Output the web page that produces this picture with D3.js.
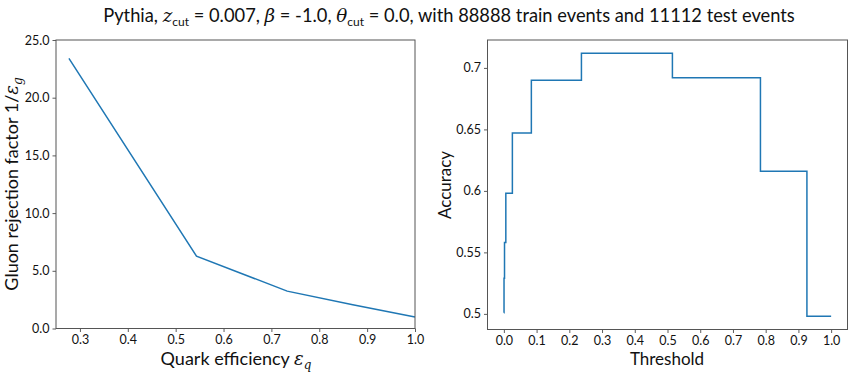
<!DOCTYPE html>
<html>
<head>
<meta charset="utf-8">
<script src="https://d3js.org/d3.v7.min.js"></script>
<style>
  body { margin: 0; background: #fff; }
  svg text { font-family: Lato, "DejaVu Sans", sans-serif; fill: #111; }
</style>
</head>
<body>
<svg width="850" height="373" id="mainsvg"></svg>
<script>
// ROC-like curve (left)
const quarkEff = [0.277, 0.5435, 0.733, 0.87, 1.0];
const gluonRej = [23.4, 6.27, 3.24, 2.05, 1.0];
const leftXTicks = [0.3, 0.4, 0.5, 0.6, 0.7, 0.8, 0.9, 1.0];
const leftYTicks = [0, 5, 10, 15, 20, 25];

// accuracy vs threshold (right)
const threshold = [0.0, 0.0005, 0.002, 0.006, 0.026, 0.084, 0.237, 0.515, 0.784, 0.926, 1.0];
const accuracy = [0.501, 0.529, 0.558, 0.598, 0.647, 0.690, 0.712, 0.692, 0.616, 0.498, 0.498];
const rightXTicks = [0, 0.1, 0.2, 0.3, 0.4, 0.5, 0.6, 0.7, 0.8, 0.9, 1.0];
const rightYTicks = [0.5, 0.55, 0.6, 0.65, 0.7];

const svg = d3.select('#mainsvg');
const blue = '#1f77b4';

// title
const title = svg.append('text')
    .attr('x', 449).attr('y', 22)
    .attr('text-anchor', 'middle')
    .style('font-size', '18.3px');
title.append('tspan').text('Pythia, ');
title.append('tspan').attr('font-style', 'italic').attr('font-family', 'DejaVu Serif').text('z');
title.append('tspan').attr('dy', 4).style('font-size', '12px').text('cut');
title.append('tspan').attr('dy', -4).text(' = 0.007, ');
title.append('tspan').attr('font-style', 'italic').attr('font-family', 'DejaVu Serif').text('β');
title.append('tspan').text(' = -1.0, ');
title.append('tspan').attr('font-style', 'italic').attr('font-family', 'DejaVu Serif').text('θ');
title.append('tspan').attr('dy', 4).style('font-size', '12px').text('cut');
title.append('tspan').attr('dy', -4).text(' = 0.0, with 88888 train events and 11112 test events');

function panel(box, xs, ys, xTicks, yTicks, xFmt, yFmt, data, curve) {
    const g = svg.append('g');
    const xAxis = d3.axisBottom(xs).tickValues(xTicks).tickFormat(xFmt).tickSizeOuter(0).tickSize(3.5).tickPadding(3);
    const yAxis = d3.axisLeft(ys).tickValues(yTicks).tickFormat(yFmt).tickSizeOuter(0).tickSize(3.5).tickPadding(3);
    const gx = g.append('g').attr('transform', `translate(0,${box.bottom})`).call(xAxis);
    const gy = g.append('g').attr('transform', `translate(${box.left},0)`).call(yAxis);
    [gx, gy].forEach(a => {
        a.select('.domain').remove();
        a.selectAll('line').attr('stroke', '#333').attr('stroke-width', 0.8);
        a.selectAll('text').style('font-size', '12.5px').attr('fill', '#111');
    });
    const line = d3.line().x(d => xs(d[0])).y(d => ys(d[1])).curve(curve);
    g.append('path').datum(data)
        .attr('d', line)
        .attr('fill', 'none')
        .attr('stroke', blue)
        .attr('stroke-width', 1.5);
    g.append('rect')
        .attr('x', box.left).attr('y', box.top)
        .attr('width', box.right - box.left).attr('height', box.bottom - box.top)
        .attr('fill', 'none').attr('stroke', '#555').attr('stroke-width', 1);
    return g;
}

// left panel
const lb = { left: 56, right: 415, top: 40, bottom: 328.5 };
const lx = d3.scaleLinear().domain([0.25, 1.0]).range([lb.left, lb.right]);
const ly = d3.scaleLinear().domain([0, 25]).range([lb.bottom, lb.top]);
panel(lb, lx, ly, leftXTicks, leftYTicks, d3.format('.1f'), d3.format('.1f'),
    quarkEff.map((d, i) => [d, gluonRej[i]]), d3.curveLinear);

const lxl = svg.append('text').attr('x', 236).attr('y', 365).attr('text-anchor', 'middle').style('font-size', '18px');
lxl.append('tspan').text('Quark efficiency ');
lxl.append('tspan').attr('font-style', 'italic').attr('font-family', 'DejaVu Serif').text('ε');
lxl.append('tspan').attr('dy', 4).attr('font-style', 'italic').attr('font-family', 'DejaVu Serif').style('font-size', '12px').text('q');

const lyl = svg.append('text').attr('transform', 'translate(18,184) rotate(-90)').attr('text-anchor', 'middle').style('font-size', '18px');
lyl.append('tspan').text('Gluon rejection factor 1/');
lyl.append('tspan').attr('font-style', 'italic').attr('font-family', 'DejaVu Serif').text('ε');
lyl.append('tspan').attr('dy', 4).attr('font-style', 'italic').attr('font-family', 'DejaVu Serif').style('font-size', '12px').text('g');

// right panel
const rb = { left: 487.5, right: 847.5, top: 40, bottom: 329.5 };
const rx = d3.scaleLinear().domain([-0.05, 1.05]).range([rb.left, rb.right]);
const accMin = d3.min(accuracy), accMax = d3.max(accuracy), pad = (accMax - accMin) * 0.05;
const ry = d3.scaleLinear().domain([accMin - pad, accMax + pad]).range([rb.bottom, rb.top]);
panel(rb, rx, ry, rightXTicks, rightYTicks, d3.format('.1f'), d => String(d),
    threshold.map((d, i) => [d, accuracy[i]]), d3.curveStepAfter);

svg.append('text').attr('x', 667).attr('y', 365).attr('text-anchor', 'middle').style('font-size', '17px').text('Threshold');
svg.append('text').attr('transform', 'translate(451,185) rotate(-90)').attr('text-anchor', 'middle').style('font-size', '17px').text('Accuracy');
</script>
</body>
</html>
